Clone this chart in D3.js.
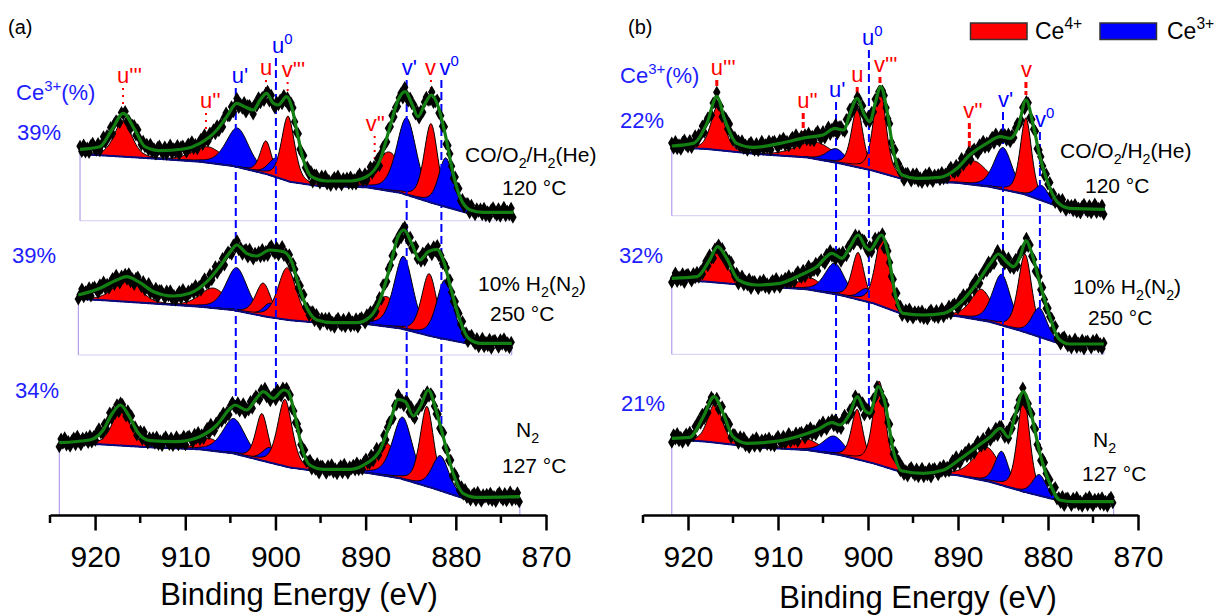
<!DOCTYPE html>
<html>
<head>
<meta charset="utf-8">
<script src="https://cdn.jsdelivr.net/npm/d3@7"></script>
<style>
  body { margin: 0; background: #fff; }
  svg { display: block; }
  text { font-family: "Liberation Sans", Arial, sans-serif; }
</style>
</head>
<body>
<div id="app"></div>
<script>
const WIDTH = 1218;
const HEIGHT = 616;

// fitted components, same order in every array below
const peakNames = ["u'''", "u''", "u'", "u", "u^{0}", "v'''", "v''", "v'", "v", "v^{0}"];
const peakState = ['Ce4+', 'Ce4+', 'Ce3+', 'Ce4+', 'Ce3+', 'Ce4+', 'Ce4+', 'Ce3+', 'Ce4+', 'Ce3+'];
const drawOrder = [1, 6, 0, 2, 7, 3, 8, 4, 9, 5];

// panel (a): peak centres (eV), heights (counts, a.u.), FWHM (eV)
const centerA = [
  [916.9, 907.5, 904.2, 901.05, 899.9, 898.6, 887.4, 885.45, 882.75, 881.1],
  [916.5, 906.9, 904.3, 901.35, 900.6, 898.7, 887.7, 885.8, 882.95, 881.2],
  [917.1, 907.3, 904.6, 901.5, 900.6, 898.95, 887.7, 885.9, 883.2, 881.7]
];
const heightA = [
  [36, 16, 39, 33, 19, 65, 39, 77, 79, 49],
  [25, 20, 43, 33, 14, 52, 30, 73, 62, 59],
  [37, 12, 35, 47, 15, 67, 33, 62, 80, 35]
];
const fwhmA = [
  [2.3, 4.0, 3.0, 1.5, 2.0, 1.7, 3.5, 2.6, 1.8, 1.9],
  [3.2, 3.5, 2.8, 2.0, 1.8, 2.4, 3.2, 2.5, 2.0, 2.2],
  [2.3, 3.0, 3.0, 1.6, 2.0, 1.9, 3.0, 2.6, 1.8, 2.2]
];

// panel (b)
const centerB = [
  [916.7, 905.8, 903.55, 901.2, 899.9, 898.7, 888.3, 885.0, 882.45, 880.7],
  [916.7, 906.4, 903.7, 901.1, 900.15, 898.4, 887.4, 885.15, 882.55, 880.96],
  [917.0, 906.8, 903.8, 901.2, 900.1, 898.75, 886.8, 885.15, 882.7, 880.96]
];
const heightB = [
  [44, 17, 14, 59, 8, 87, 24, 42, 77, 15],
  [35, 12, 31, 47, 13, 71, 31, 51, 78, 29],
  [39, 11, 18, 50, 6, 84, 34, 34, 95, 21]
];
const fwhmB = [
  [1.8, 5.0, 2.5, 1.5, 2.0, 1.6, 4.0, 2.4, 1.5, 1.8],
  [2.2, 3.0, 2.6, 1.6, 2.0, 1.8, 2.8, 2.4, 1.8, 2.0],
  [1.9, 3.5, 2.8, 1.5, 2.0, 1.6, 3.5, 1.8, 1.6, 1.8]
];

// Shirley backgrounds
const bgEnergyA = [924, 919.5, 913.9, 908.4, 904.7, 901.0, 898.4, 895.4, 889.9, 886.2, 882.5, 878.8, 872.9];
const bgA = [
  [67.5, 65.5, 62.4, 59, 54.7, 46.7, 39, 35, 33.4, 28, 17.4, 8, 7.4],
  [57, 55, 51.7, 48.3, 45, 38.3, 34.8, 32.5, 31, 26.7, 18.3, 11.7, 11],
  [70.7, 70.7, 67.7, 65.7, 61.7, 53.3, 47.5, 44, 42.3, 36.7, 26.7, 15.7, 15]
];
const bgEnergyB = [922, 917.9, 912.4, 906.8, 903.1, 899.4, 896.4, 893.9, 890.2, 886.5, 882.7, 879.0, 872.5];
const bgB = [
  [68.5, 66.7, 61.7, 58.3, 52.3, 45, 37.3, 34, 33, 29, 21.7, 9.7, 7.3],
  [74.5, 72.6, 68.3, 65, 59.3, 51, 41, 39.3, 38.3, 32.6, 22.6, 11.6, 10.3],
  [76, 73.3, 67.7, 65, 60, 51.7, 43.3, 41.7, 40, 33.3, 23.3, 15, 13.3]
];

// cumulative fit envelope, [eV, counts]
const fitA = [
  [[921.67, 71.4], [919.46, 74], [918.16, 90.7], [916.87, 107.4], [915.58, 90.7], [914.47, 74], [912.8, 70],
   [910.2, 71.7], [908.37, 77.4], [906.5, 90.7], [905.4, 104], [904.3, 117.4], [903.4, 114], [902.45, 110.7],
   [901.7, 120.7], [900.98, 127.4], [900.24, 117.4], [899.7, 115.7], [898.76, 124], [898.2, 114], [897.65, 90.7],
   [896.9, 60.7], [896.0, 44], [894.3, 39.7], [891.7, 39.7], [889.9, 44], [888.4, 60.7], [887.3, 94],
   [886.4, 120.7], [885.6, 129], [884.9, 117.4], [884.2, 104], [883.4, 117.4], [882.7, 125.7], [881.95, 114],
   [881.2, 87.4], [880.3, 47.4], [879.55, 24], [878.4, 10.7], [877.0, 8.4], [873.6, 8.4]],
  [[921.86, 60], [919.46, 66.7], [917.6, 75], [916.5, 78.3], [915.2, 73.3], [913.5, 63.3], [911.3, 59],
   [909.5, 61.7], [907.6, 73.3], [906.2, 88.3], [905.0, 103.3], [904.3, 110], [903.2, 101.7], [902.1, 99],
   [900.6, 105], [899.1, 103.3], [898.2, 93.3], [897.5, 71.7], [896.5, 46.7], [895.4, 35], [893.6, 32.3],
   [891.0, 32.3], [889.5, 38.3], [888.4, 55], [887.3, 88.3], [886.4, 118.3], [885.75, 125], [884.9, 111.7],
   [884.0, 95], [883.05, 103.3], [882.1, 105.7], [881.4, 95], [880.5, 65], [879.55, 35], [878.6, 16.7],
   [877.3, 11.7], [873.8, 11.7]],
  [[923.97, 72.3], [920.6, 75], [919.1, 85], [918.2, 100], [917.2, 110], [916.3, 100], [915.2, 81.7],
   [913.9, 74.3], [911.0, 73.3], [908.4, 78.3], [906.5, 90], [905.0, 106.7], [904.5, 110], [903.2, 105],
   [902.1, 116.7], [901.35, 123.3], [900.24, 116.7], [899.1, 125], [898.6, 123.3], [897.8, 98.3], [897.1, 68.3],
   [896.2, 50], [894.7, 45.7], [891.7, 45.7], [889.9, 51.7], [888.4, 65], [887.3, 91.7], [886.4, 115.7],
   [885.6, 113.3], [884.7, 99], [883.95, 108.3], [883.05, 125], [882.3, 108.3], [881.4, 78.3], [880.3, 41.7],
   [879.2, 21.7], [877.7, 17.7], [872.9, 18.3]]
];
const fitB = [
  [[921.8, 69.7], [919.4, 72.3], [917.9, 92.3], [916.8, 119], [915.9, 95.7], [914.6, 72.3], [912.7, 68.3],
   [909.8, 72.3], [906.8, 78.3], [905.0, 80.7], [903.7, 87.3], [902.7, 85.7], [902.0, 102.3], [901.2, 117.4],
   [900.4, 100.7], [899.8, 94], [899.2, 112.4], [898.6, 129], [897.9, 105.7], [897.2, 65.7], [896.2, 40.7],
   [894.6, 37.4], [892.0, 38.4], [890.1, 47.4], [888.7, 60.7], [886.8, 72.4], [885.3, 79], [884.2, 77.4],
   [883.3, 89], [882.45, 115.7], [881.6, 89], [880.9, 59], [880.0, 32.4], [879.0, 14], [877.6, 7.4], [873.7, 6.4]],
  [[921.8, 76], [919.0, 77.6], [917.6, 94.3], [916.7, 107.6], [915.7, 96], [914.4, 74.3], [912.4, 69.3],
   [909.8, 71], [907.5, 79.3], [905.7, 87.6], [904.0, 101], [902.9, 96], [902.0, 107.6], [901.1, 119.3],
   [900.3, 107.6], [899.8, 104.3], [898.5, 119.3], [897.7, 97.6], [897.0, 61], [896.1, 41], [893.85, 39.3],
   [891.6, 41], [889.8, 51], [887.9, 71], [886.4, 91], [885.5, 100.3], [884.6, 92.6], [883.85, 87.6],
   [883.1, 97.6], [882.45, 113.6], [881.8, 101], [880.9, 71], [879.8, 37.6], [878.85, 16], [877.6, 10.3],
   [873.8, 10.3]],
  [[921.8, 76.7], [919.8, 77.7], [918.3, 98.3], [917.1, 118.3], [916.1, 101.7], [915.0, 78.3], [913.5, 71.7],
   [910.5, 73.3], [907.9, 78.3], [905.7, 85], [904.0, 92.3], [903.1, 90], [902.0, 101.7], [901.2, 118.3],
   [900.4, 105], [899.8, 101.7], [898.85, 128.3], [898.1, 111.7], [897.2, 65], [896.3, 44.3], [893.85, 41.7],
   [891.6, 45], [889.8, 55.7], [887.9, 68.3], [886.4, 78.3], [885.3, 86.7], [884.4, 77.7], [883.7, 98.3],
   [882.75, 123.3], [881.8, 98.3], [880.9, 61.7], [879.8, 31.7], [878.7, 15], [877.2, 13.3], [872.7, 13.3]]
];

// scatter of the measured points around the fit (counts)
const noise = [3, -2.5, 4, -3.5, 0.5, -4.5, 2.5, 4.5, -1, -3, 3.5, -4, 0, 5, -3.5, 1, -2.5, 4, -5,
  2.5, 3, -0.5, -4, 3.5, -1, 4.5, -3, 0.5, -4.5, 1, 3.5, -3.5, 5, -1, -4, 2.5, 0];

// label / marker energies and label nudges (px)
const labelEnergyA = [916.9, 907.7, 904.4, 901.05, 899.95, 898.65, 889.0, 885.45, 882.76, 881.6];
const labelEnergyB = [916.8, 907.2, 903.55, 901.2, 899.9, 898.67, 888.74, 885.0, 882.45, 880.9];

const percentA = [39, 39, 34];
const percentB = [22, 32, 21];
const conditions = ['CO/O_{2}/H_{2}(He)', '10% H_{2}(N_{2})', 'N_{2}'];
const temps = ['120 °C', '250 °C', '127 °C'];

const xTicks = [920, 910, 900, 890, 880, 870];
const xMinor = [925, 915, 905, 895, 885, 875];
const legendItems = ['Ce4+', 'Ce3+'];
const legendText = ['Ce^{4+}', 'Ce^{3+}'];

const RED = '#ff0000';
const BLUE = '#0000ff';
const colorOf = s => s === 'Ce4+' ? RED : BLUE;
const MIX = 0.4; // lorentzian share of the GL line shape
const AXIS_Y = 515;

const svg = d3.select('#app')
  .append('svg')
  .attr('width', WIDTH)
  .attr('height', HEIGHT);

// text with _{sub} and ^{sup} pieces
function richText(g, str, x, y, size, color, anchor) {
  const t = g.append('text')
    .attr('x', x).attr('y', y)
    .attr('font-size', size + 'px')
    .attr('fill', color)
    .attr('text-anchor', anchor || 'start');
  const parts = str.match(/(_\{[^}]*\}|\^\{[^}]*\}|[^_^]+)/g);
  let shift = 0;
  parts.forEach(part => {
    let dy = 0, fs = size, txt = part;
    if (part[0] === '_') { txt = part.slice(2, -1); fs = size * 0.68; dy = size * 0.3 - shift; shift = size * 0.3; }
    else if (part[0] === '^') { txt = part.slice(2, -1); fs = size * 0.68; dy = -size * 0.42 - shift; shift = -size * 0.42; }
    else { dy = -shift; shift = 0; }
    t.append('tspan').attr('dy', dy).attr('font-size', fs + 'px').text(txt);
  });
  return t;
}

function gl(E, c, h, w) {
  const t = (E - c) / w;
  return h * ((1 - MIX) * Math.exp(-4 * Math.LN2 * t * t) + MIX / (1 + 4 * t * t));
}

const panels = [
  {
    tag: '(a)', tagPos: [8, 34], x0: 50, x1: 546, bottoms: [220.7, 355, 515],
    centers: centerA, heights: heightA, fwhms: fwhmA, bgE: bgEnergyA, bg: bgA, fits: fitA,
    percent: percentA, labelE: labelEnergyA,
    labelY: [83, 108, 83, 75, 53, 77, 131, 75, 75, 75],
    labelDx: [-6, -6, -4, -6, -4, -6, -9, -5, -6, -2],
    cePos: [16, 100], pctPos: [[17, 140], [12, 263], [15, 398]],
    condPos: [[465, 162], [478, 291], [516, 437]], tempPos: [[502, 195], [490, 321], [502, 473]],
    titlePos: [299, 605]
  },
  {
    tag: '(b)', tagPos: [628, 34], x0: 643, x1: 1138, bottoms: [215.7, 354.3, 515],
    centers: centerB, heights: heightB, fwhms: fwhmB, bgE: bgEnergyB, bg: bgB, fits: fitB,
    percent: percentB, labelE: labelEnergyB,
    labelY: [75, 108, 97, 82, 45, 72, 118, 107, 77, 127],
    labelDx: [-6, -6, -7, -6, -7, -6, -6, -5, -5, -5],
    cePos: [620, 83], pctPos: [[620, 128], [619, 263], [621, 411]],
    condPos: [[1060, 158], [1073, 294], [1093, 447]], tempPos: [[1085, 193], [1088, 325], [1082, 481]],
    titlePos: [918, 608]
  }
];

panels.forEach(p => {
  const x = d3.scaleLinear().domain([925, 870]).range([p.x0, p.x1]);
  const g = svg.append('g');

  const spectra = p.bottoms.map((bottom, k) => {
    const y = d3.scaleLinear().domain([0, 100]).range([bottom, bottom - 100]);
    const bgScale = d3.scaleLinear().domain(p.bgE).range(p.bg[k]);
    const env = p.fits[k];
    const fit = d3.scaleLinear().domain(env.map(d => d[0])).range(env.map(d => d[1]));
    const eStart = env[0][0], eEnd = env[env.length - 1][0];
    const grid = d3.range(eStart, eEnd - 0.001, -0.1);
    const peak = (E, j) => gl(E, p.centers[k][j], p.heights[k][j], p.fwhms[k][j]);
    return { k, y, bgScale, env, fit, grid, peak, eStart, eEnd, bottom };
  });

  // frames
  spectra.forEach(s => {
    const fr = g.append('g').attr('stroke', '#a58be6').attr('stroke-width', 1);
    fr.append('line').attr('x1', x(s.eStart)).attr('x2', x(s.eEnd))
      .attr('y1', s.bottom).attr('y2', s.bottom).attr('stroke-opacity', 0.45);
    fr.append('line').attr('x1', x(s.eStart)).attr('x2', x(s.eStart))
      .attr('y1', s.bottom).attr('y2', s.y(s.fit(s.eStart)));
    fr.append('line').attr('x1', x(s.eEnd)).attr('x2', x(s.eEnd))
      .attr('y1', s.bottom).attr('y2', s.y(s.fit(s.eEnd)));
  });

  // component peaks
  spectra.forEach(s => {
    drawOrder.forEach(j => {
      const c = p.centers[s.k][j], w = p.fwhms[s.k][j];
      const pts = s.grid.filter(E => Math.abs(E - c) < 3.8 * w);
      const area = d3.area()
        .x(E => x(E))
        .y0(E => s.y(s.bgScale(E)))
        .y1(E => s.y(s.bgScale(E) + s.peak(E, j)));
      g.append('path')
        .datum(pts)
        .attr('d', area)
        .attr('fill', colorOf(peakState[j]))
        .attr('stroke', '#000')
        .attr('stroke-width', 1);
    });
  });

  // peak labels and guide lines
  const bottomSpec = spectra[2], topSpec = spectra[0];
  peakNames.forEach((name, j) => {
    const E = p.labelE[j];
    const lx = x(E);
    const col = colorOf(peakState[j]);
    const isCe3 = peakState[j] === 'Ce3+';
    const yEnd = isCe3 ? bottomSpec.y(bottomSpec.fit(E)) - 2 : topSpec.y(topSpec.fit(E)) - 5;
    g.append('line')
      .attr('x1', lx).attr('x2', lx)
      .attr('y1', p.labelY[j] + 5).attr('y2', yEnd)
      .attr('stroke', col)
      .attr('stroke-width', isCe3 ? 2 : (p.tag === '(b)' ? 3 : 2))
      .attr('stroke-dasharray', isCe3 ? '8,4' : (p.tag === '(b)' ? '6,3' : '2,5'));
    richText(g, name, lx + p.labelDx[j], p.labelY[j], 22, col);
  });

  // background, measured points and envelope
  spectra.forEach(s => {
    g.append('path')
      .datum(s.grid)
      .attr('d', d3.line().x(E => x(E)).y(E => s.y(s.bgScale(E))))
      .attr('fill', 'none')
      .attr('stroke', '#0a0a80')
      .attr('stroke-width', 2);

    const pts = d3.range(s.eStart, s.eEnd - 0.001, -0.2);
    g.selectAll(null)
      .data(pts)
      .enter()
      .append('path')
      .attr('d', d3.symbol(d3.symbolDiamond, 48))
      .attr('transform', (E, i) => `translate(${x(E)},${s.y(s.fit(E) + noise[(i + s.k * 11) % noise.length])})`)
      .attr('fill', '#000');

    g.append('path')
      .datum(s.env)
      .attr('d', d3.line().x(d => x(d[0])).y(d => s.y(d[1])).curve(d3.curveMonotoneX))
      .attr('fill', 'none')
      .attr('stroke', '#137f13')
      .attr('stroke-width', 3.2);
  });

  // axis
  const ax = g.append('g')
    .attr('transform', `translate(0,${AXIS_Y})`)
    .call(d3.axisBottom(x).tickValues(xTicks).tickSize(15.5).tickSizeOuter(0).tickPadding(15).tickFormat(d3.format('d')));
  ax.select('.domain').attr('stroke-width', 2.5);
  ax.selectAll('.tick line').attr('stroke-width', 2.5);
  ax.selectAll('.tick text')
    .attr('font-size', '30px')
    .attr('font-family', '"Liberation Sans", Arial, sans-serif')
    .attr('fill', '#000');
  ax.selectAll('.minor')
    .data(xMinor)
    .enter()
    .append('line')
    .attr('x1', d => x(d)).attr('x2', d => x(d))
    .attr('y1', 0).attr('y2', 8)
    .attr('stroke', '#000')
    .attr('stroke-width', 2.5);

  g.append('text')
    .attr('x', p.titlePos[0]).attr('y', p.titlePos[1])
    .attr('text-anchor', 'middle')
    .attr('font-size', '31px')
    .text('Binding Energy (eV)');

  // annotations
  g.append('text').attr('x', p.tagPos[0]).attr('y', p.tagPos[1]).attr('font-size', '20px').text(p.tag);
  richText(g, 'Ce^{3+}(%)', p.cePos[0], p.cePos[1], 22, '#2020ff');
  p.percent.forEach((v, k) => {
    g.append('text').attr('x', p.pctPos[k][0]).attr('y', p.pctPos[k][1])
      .attr('font-size', '22px').attr('fill', '#2020ff').text(v + '%');
  });
  conditions.forEach((c, k) => {
    richText(g, c, p.condPos[k][0], p.condPos[k][1], 21, '#000');
    richText(g, temps[k], p.tempPos[k][0], p.tempPos[k][1], 21, '#000');
  });
});

// legend
const legend = svg.append('g');
const legendX = [970.5, 1100];
const legendTextX = [1035, 1167];
legendItems.forEach((item, i) => {
  legend.append('rect')
    .attr('x', legendX[i]).attr('y', 23)
    .attr('width', 56.5).attr('height', 16.5)
    .attr('fill', colorOf(item))
    .attr('stroke', '#333')
    .attr('stroke-width', 1.5);
  richText(legend, legendText[i], legendTextX[i], 39, 23, '#000');
});
</script>
</body>
</html>
